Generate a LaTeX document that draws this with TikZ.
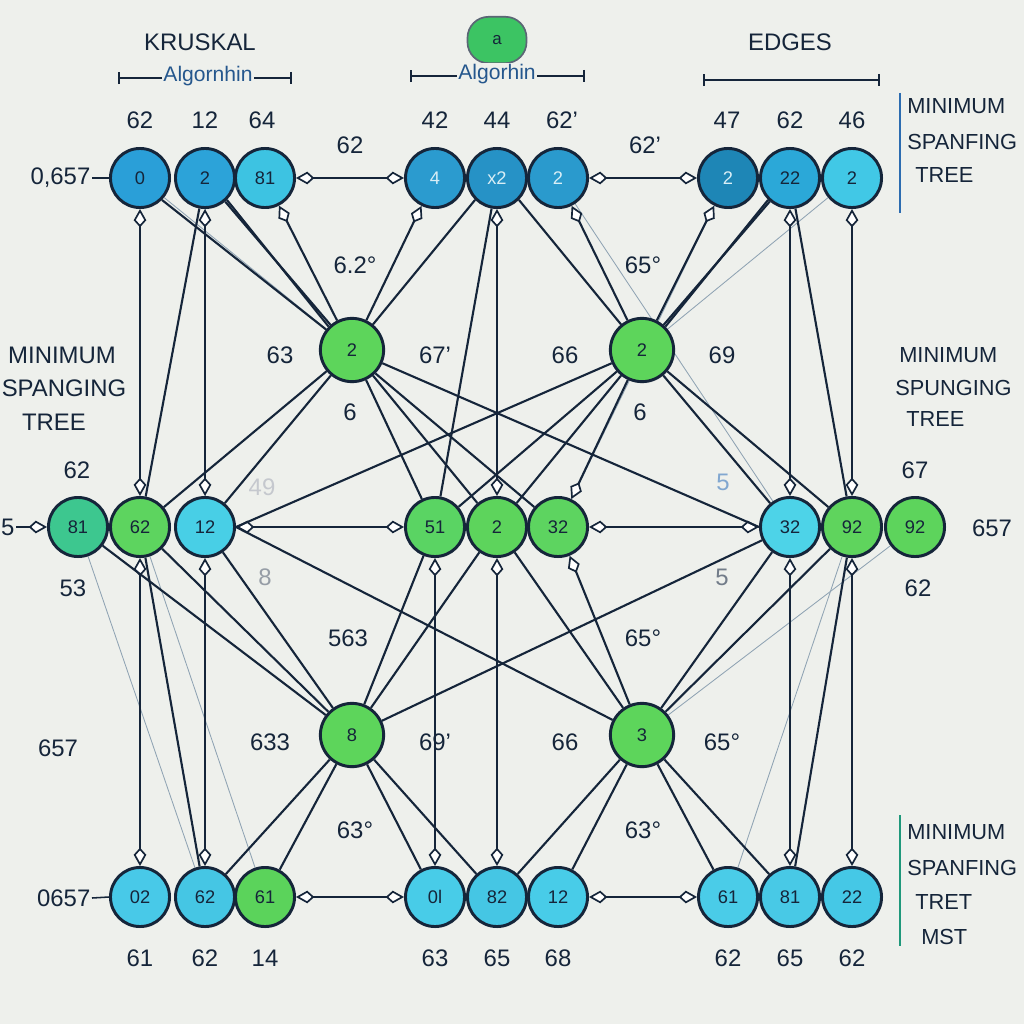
\documentclass[tikz,border=0pt]{standalone}
\usepackage{fontspec}
\setmainfont{Liberation Sans}
\usetikzlibrary{arrows.meta,shadows}
\definecolor{bg}{HTML}{EEF0EC}
\definecolor{ink}{HTML}{15253A}
\definecolor{faintc}{HTML}{8FA3B3}
\definecolor{hubg}{HTML}{5DD55B}
\definecolor{blobg}{HTML}{3CC463}
\definecolor{sideblue}{HTML}{2C6CB0}
\definecolor{lighttxt}{HTML}{D9EEF6}
\pgfdeclarelayer{back}
\pgfdeclarelayer{edges}
\pgfsetlayers{back,edges,main}
\tikzset{dk/.tip={Kite[fill=white,length=13pt,width=9pt,inset=5pt,line width=1.2pt]}}
\begin{document}
\begin{tikzpicture}[x=0.25mm,y=-0.25mm,
  nd/.style={circle, draw=ink, line width=2.1pt, minimum size=42pt, inner sep=0pt,
    font=\fontsize{13}{15}\selectfont, text=ink,
    drop shadow={opacity=0.18,shadow xshift=0.6pt,shadow yshift=-1.2pt}},
  hub/.style={nd, minimum size=45pt, fill=hubg},
  lab/.style={font=\fontsize{17}{20}\selectfont, text=ink, inner sep=1pt},
  side/.style={font=\fontsize{15.5}{18}\selectfont, text=ink, anchor=west, inner sep=0pt},
  edge/.style={draw=ink, line width=1.5pt},
  faint/.style={draw=faintc, line width=0.6pt},
  brk/.style={draw=ink, line width=1.4pt, |-|},
]
\begin{pgfonlayer}{back}
\fill[bg] (0,0) rectangle (1024,1024);
\end{pgfonlayer}
\useasboundingbox (0,0) rectangle (1024,1024);

% ---------- headings ----------
\node[lab] (kru) at (200,42) {KRUSKAL};
\coordinate (bl1) at (118,78); \coordinate (bl2) at (292,78);
\draw[brk] (bl1) -- (bl2);
\node[lab, fill=bg, text=sideblue!70!ink, font=\fontsize{15}{17}\selectfont] (alg1) at (208,76) {Algornhin};
\node[draw=ink!70, line width=1.2pt, fill=blobg, rounded corners=15pt, minimum width=42pt, minimum height=33pt, font=\fontsize{12}{14}\selectfont, text=ink] (blob) at (497,40) {a};
\coordinate (bc1) at (410,76); \coordinate (bc2) at (585,76);
\draw[brk] (bc1) -- (bc2);
\node[lab, fill=bg, text=sideblue!70!ink, font=\fontsize{15}{17}\selectfont] (alg2) at (497,74) {Algorhin};
\node[lab] (edg) at (790,42) {EDGES};
\coordinate (br1) at (703,80); \coordinate (br2) at (880,80);
\draw[brk] (br1) -- (br2);

% side notes
\coordinate (s1a) at (900,93); \coordinate (s1b) at (900,213);
\draw[sideblue, line width=1.6pt] (s1a) -- (s1b);
\node[side] (sn1) at (907,106) {MINIMUM};
\node[side] (sn2) at (907,142) {SPANFING};
\node[side] (sn3) at (915,175) {TREE};
\coordinate (s2a) at (900,815); \coordinate (s2b) at (900,946);
\draw[sideblue!70!green, line width=1.6pt] (s2a) -- (s2b);
\node[side] (sb1) at (907,832) {MINIMUM};
\node[side] (sb2) at (907,868) {SPANFING};
\node[side] (sb3) at (915,902) {TRET};
\node[side] (sb4) at (921,937) {MST};
\node[lab] (lm1) at (62,355) {MINIMUM};
\node[lab] (lm2) at (64,388) {SPANGING};
\node[lab] (lm3) at (54,422) {TREE};
\node[side] (rm1) at (899,355) {MINIMUM};
\node[side] (rm2) at (895,388) {SPUNGING};
\node[side] (rm3) at (906,419) {TREE};

% ---------- nodes ----------
\node[nd, fill={rgb,255:red,42;green,159;blue,216}] (t1) at (140,178) {0};
\node[nd, fill={rgb,255:red,44;green,163;blue,217}] (t2) at (205,178) {2};
\node[nd, fill={rgb,255:red,61;green,195;blue,226}] (t3) at (265,178) {81};
\node[nd, fill={rgb,255:red,43;green,155;blue,207}, text=lighttxt] (t4) at (435,178) {4};
\node[nd, fill={rgb,255:red,38;green,146;blue,198}, text=lighttxt] (t5) at (497,178) {x2};
\node[nd, fill={rgb,255:red,42;green,154;blue,205}, text=lighttxt] (t6) at (558,178) {2};
\node[nd, fill={rgb,255:red,30;green,134;blue,182}, text=lighttxt] (t7) at (728,178) {2};
\node[nd, fill={rgb,255:red,43;green,168;blue,216}] (t8) at (790,178) {22};
\node[nd, fill={rgb,255:red,65;green,200;blue,230}] (t9) at (852,178) {2};

\node[hub] (h1) at (352,350) {2};
\node[hub] (h2) at (642,350) {2};

\node[nd, fill={rgb,255:red,61;green,199;blue,143}] (m1) at (78,527) {81};
\node[nd, fill={rgb,255:red,93;green,212;blue,95}] (m2) at (140,527) {62};
\node[nd, fill={rgb,255:red,72;green,207;blue,230}] (m3) at (205,527) {12};
\node[nd, fill={rgb,255:red,90;green,212;blue,99}] (m4) at (435,527) {51};
\node[nd, fill={rgb,255:red,93;green,212;blue,92}] (m5) at (497,527) {2};
\node[nd, fill={rgb,255:red,93;green,212;blue,96}] (m6) at (558,527) {32};
\node[nd, fill={rgb,255:red,77;green,211;blue,232}] (m7) at (790,527) {32};
\node[nd, fill={rgb,255:red,95;green,212;blue,93}] (m8) at (852,527) {92};
\node[nd, fill={rgb,255:red,93;green,212;blue,92}] (m9) at (915,527) {92};

\node[hub] (h3) at (352,735) {8};
\node[hub] (h4) at (642,735) {3};

\node[nd, fill={rgb,255:red,72;green,201;blue,232}] (b1) at (140,897) {02};
\node[nd, fill={rgb,255:red,69;green,198;blue,228}] (b2) at (205,897) {62};
\node[nd, fill={rgb,255:red,91;green,211;blue,91}] (b3) at (265,897) {61};
\node[nd, fill={rgb,255:red,72;green,204;blue,232}] (b4) at (435,897) {0l};
\node[nd, fill={rgb,255:red,69;green,198;blue,228}] (b5) at (497,897) {82};
\node[nd, fill={rgb,255:red,72;green,204;blue,232}] (b6) at (558,897) {12};
\node[nd, fill={rgb,255:red,74;green,204;blue,232}] (b7) at (728,897) {61};
\node[nd, fill={rgb,255:red,72;green,201;blue,230}] (b8) at (790,897) {81};
\node[nd, fill={rgb,255:red,69;green,200;blue,230}] (b9) at (852,897) {22};

% ---------- labels ----------
\node[lab] (a1) at (140,120) {62};
\node[lab] (a2) at (205,120) {12};
\node[lab] (a3) at (262,120) {64};
\node[lab] (a4) at (435,120) {42};
\node[lab] (a5) at (497,120) {44};
\node[lab] (a6) at (562,120) {62'};
\node[lab] (a7) at (727,120) {47};
\node[lab] (a8) at (790,120) {62};
\node[lab] (a9) at (852,120) {46};
\node[lab] (c1) at (350,145) {62};
\node[lab] (c2) at (645,145) {62'};
\node[lab, anchor=east] (lt) at (92,178) {0,657};
\node[lab] (d1) at (355,265) {6.2°};
\node[lab] (d2) at (643,265) {65°};
\node[lab] (d3) at (280,355) {63};
\node[lab] (d4) at (435,355) {67'};
\node[lab] (d5) at (350,412) {6};
\node[lab] (d6) at (565,355) {66};
\node[lab] (d7) at (722,355) {69};
\node[lab] (d8) at (640,412) {6};
\node[lab] (e1) at (77,470) {62};
\node[lab, anchor=east] (e2) at (16,527) {5};
\node[lab] (e3) at (73,588) {53};
\node[lab, text=ink!25] (e4) at (262,487) {49};
\node[lab, text=ink!45] (e5) at (265,577) {8};
\node[lab, text=sideblue!60] (e6) at (723,482) {5};
\node[lab, text=ink!60] (e7) at (722,577) {5};
\node[lab] (e8) at (915,470) {67};
\node[lab] (e9) at (992,528) {657};
\node[lab] (e10) at (918,588) {62};
\node[lab] (f1) at (348,638) {563};
\node[lab] (f2) at (643,638) {65°};
\node[lab] (g1) at (58,748) {657};
\node[lab] (g2) at (270,742) {633};
\node[lab] (g3) at (435,742) {69'};
\node[lab] (g4) at (565,742) {66};
\node[lab] (g5) at (722,742) {65°};
\node[lab] (k1) at (355,830) {63°};
\node[lab] (k2) at (643,830) {63°};
\node[lab, anchor=east] (lb) at (92,898) {0657};
\node[lab] (p1) at (140,958) {61};
\node[lab] (p2) at (205,958) {62};
\node[lab] (p3) at (265,958) {14};
\node[lab] (p4) at (435,958) {63};
\node[lab] (p5) at (497,958) {65};
\node[lab] (p6) at (558,958) {68};
\node[lab] (p7) at (728,958) {62};
\node[lab] (p8) at (790,958) {65};
\node[lab] (p9) at (852,958) {62};

% ---------- connectors ----------
\begin{pgfonlayer}{edges}
% faint lines
\draw[faint] (t1) -- (h1);
\draw[faint] (t2) -- (m3);
\draw[faint] (m1) -- (b2);
\draw[faint] (t6) -- (m7);
\draw[faint] (t9) -- (h2);
\draw[faint] (m8) -- (b7);
\draw[faint] (m9) -- (h4);
\draw[faint] (m2) -- (b3);
\draw[faint] (t7) -- (m6);
% ticks to labels
\draw[edge, line width=1.1pt] (lt.east) -- (t1.west);
\draw[edge, line width=1.1pt] (lb.east) -- (b1.west);
\draw[edge, -dk] (e2.east) -- (m1.west);
% horizontal links
\draw[edge, dk-dk] (t3) -- (t4);
\draw[edge, dk-dk] (t6) -- (t7);
\draw[edge, dk-dk] (m3) -- (m4);
\draw[edge, dk-dk] (m6) -- (m7);
\draw[edge, dk-dk] (b3) -- (b4);
\draw[edge, dk-dk] (b6) -- (b7);
% verticals top to middle
\draw[edge, dk-dk] (t1) -- (m2);
\draw[edge, dk-dk] (t2) -- (m3);
\draw[edge, dk-dk] (t5) -- (m5);
\draw[edge, dk-dk] (t8) -- (m7);
\draw[edge, dk-dk] (t9) -- (m8);
% verticals middle to bottom
\draw[edge, dk-dk] (m2) -- (b1);
\draw[edge, dk-dk] (m3) -- (b2);
\draw[edge, dk-dk] (m4) -- (b4);
\draw[edge, dk-dk] (m5) -- (b5);
\draw[edge, dk-dk] (m7) -- (b8);
\draw[edge, dk-dk] (m8) -- (b9);
% top to hub 1
\draw[edge] (t1.south east) -- (h1);
\draw[edge] (t2) -- (h1);
\draw[edge] (t2.south east) -- (h1.north west);
\draw[edge, dk-] (t3) -- (h1);
\draw[edge, dk-] (t4) -- (h1);
\draw[edge] (t5.south west) -- (h1);
\draw[edge] (t2) -- (m2);
\draw[edge] (t5) -- (m4);
% top to hub 2
\draw[edge] (t5.south east) -- (h2);
\draw[edge, dk-] (t6) -- (h2);
\draw[edge, dk-] (t7) -- (h2);
\draw[edge] (t8) -- (h2);
\draw[edge] (t8.south west) -- (h2.north east);
\draw[edge] (t8) -- (m8);
% hub 1 down
\draw[edge] (h1) -- (m2);
\draw[edge] (h1) -- (m3);
\draw[edge] (h1) -- (m4);
\draw[edge] (h1) -- (m5);
\draw[edge] (h1.south east) -- (m6);
\draw[edge] (h1) -- (m7.west);
% hub 2 down
\draw[edge] (h2) -- (m4);
\draw[edge] (h2) -- (m5);
\draw[edge, -dk] (h2) -- (m6);
\draw[edge] (h2) -- (m7);
\draw[edge] (h2) -- (m8);
\draw[edge] (h2) -- (m3.east);
% middle to hub 3
\draw[edge] (m1) -- (h3);
\draw[edge] (m2) -- (h3);
\draw[edge] (m3) -- (h3);
\draw[edge] (m4) -- (h3);
\draw[edge] (m5) -- (h3);
\draw[edge] (m2) -- (b2);
\draw[edge] (h3) -- (m7);
% middle to hub 4
\draw[edge] (m3.east) -- (h4);
\draw[edge] (m5) -- (h4);
\draw[edge, dk-] (m6) -- (h4);
\draw[edge] (m7) -- (h4);
\draw[edge] (m8) -- (h4);
\draw[edge] (m8) -- (b8);
% hub 3 down
\draw[edge] (h3) -- (b2);
\draw[edge] (h3) -- (b3);
\draw[edge] (h3) -- (b4);
\draw[edge] (h3) -- (b5);
% hub 4 down
\draw[edge] (h4) -- (b5);
\draw[edge] (h4) -- (b6);
\draw[edge] (h4) -- (b7);
\draw[edge] (h4) -- (b8);
\end{pgfonlayer}
\end{tikzpicture}
\end{document}
